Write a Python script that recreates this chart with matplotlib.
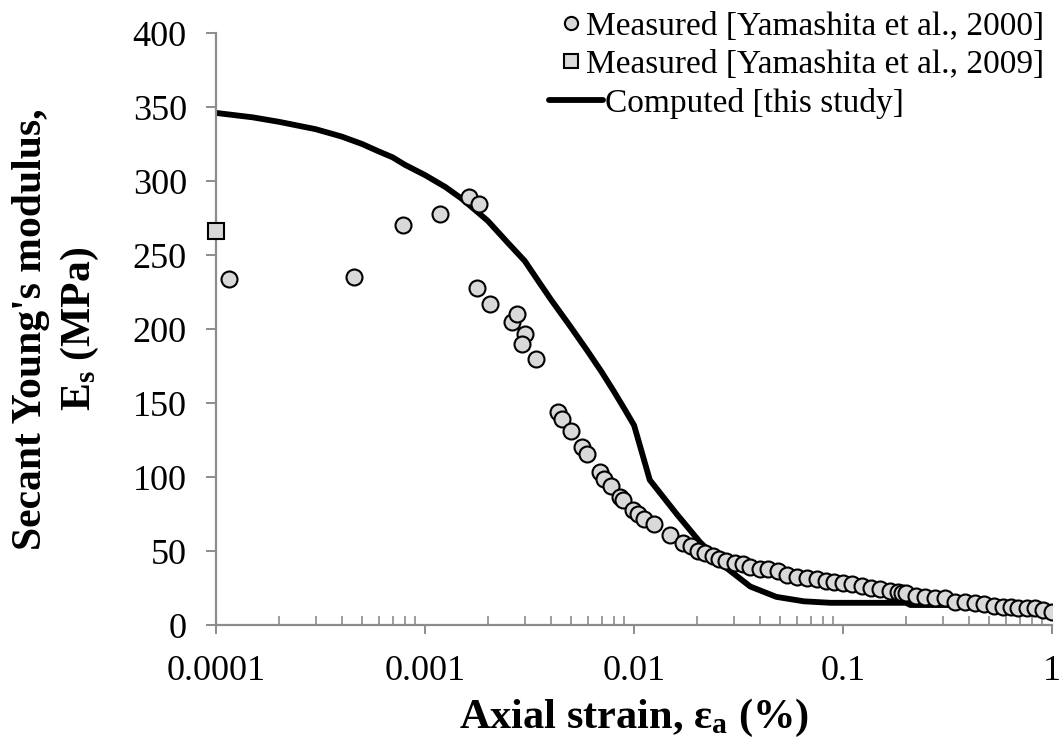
import matplotlib
matplotlib.use("Agg")
import matplotlib.pyplot as plt
from matplotlib.ticker import LogLocator, NullFormatter, FixedLocator, FixedFormatter
from matplotlib.lines import Line2D

plt.rcParams['font.family'] = ['Liberation Serif', 'DejaVu Serif']
plt.rcParams['mathtext.fontset'] = 'custom'
plt.rcParams['mathtext.rm'] = 'Liberation Serif:bold'
plt.rcParams['mathtext.bf'] = 'Liberation Serif:bold'
plt.rcParams['mathtext.it'] = 'Liberation Serif:bold:italic'

# Measured [Yamashita et al., 2000]
meas2000_strain = [1.15e-4, 4.57e-4, 7.87e-4, 1.18e-3, 1.63e-3, 1.81e-3, 1.78e-3, 2.05e-3,
                   2.62e-3, 2.75e-3, 3.01e-3, 2.90e-3, 3.41e-3, 4.35e-3, 4.51e-3, 5.0e-3,
                   5.63e-3, 5.96e-3, 6.88e-3, 7.18e-3, 7.78e-3, 8.57e-3, 8.83e-3, 9.86e-3,
                   1.04e-2, 1.12e-2, 1.24e-2, 1.49e-2, 1.71e-2, 1.87e-2, 2.02e-2, 2.19e-2,
                   2.38e-2, 2.54e-2, 2.75e-2, 3.04e-2, 3.31e-2, 3.59e-2, 4.01e-2, 4.39e-2,
                   4.9e-2, 5.38e-2, 6.0e-2, 6.75e-2, 7.48e-2, 8.3e-2, 9.08e-2, 0.100,
                   0.111, 0.123, 0.136, 0.150, 0.167, 0.184, 0.192, 0.201, 0.224, 0.246,
                   0.275, 0.307, 0.343, 0.383, 0.428, 0.473, 0.528, 0.583, 0.64, 0.69,
                   0.76, 0.83, 0.91, 1.0]
meas2000_E = [234, 235, 270, 278, 289, 284.5, 228, 217, 204.5, 210, 196.6, 190, 179.5,
              143.7, 139, 130.9, 120, 115.5, 103.4, 98.9, 94.1, 86.7, 84.5, 77.7, 74.8,
              71.6, 68, 60.6, 55.6, 53.4, 50.2, 48.4, 46.6, 44.4, 43.2, 42.1, 41, 39.4,
              38, 37.6, 36.7, 33.8, 32.6, 31.5, 30.9, 29.7, 29.3, 28.2, 27.5, 26.6, 25.2,
              24.1, 23, 22.1, 21.8, 21.4, 19.8, 18.9, 18.2, 18.5, 15.8, 15.8, 14.6, 14.2,
              13, 12.4, 12.0, 11.7, 11.3, 11.3, 10.1, 9]

# Measured [Yamashita et al., 2009]
meas2009_strain = [1.0e-4]
meas2009_E = [266.4]

# Computed [this study]
comp_strain = [1e-4, 1.5e-4, 2e-4, 3e-4, 4e-4, 5e-4, 6e-4, 7e-4, 8e-4, 1e-3, 1.25e-3,
               1.5e-3, 1.75e-3, 2e-3, 2.5e-3, 3e-3, 3.5e-3, 4e-3, 5e-3, 6e-3, 7e-3,
               8e-3, 9e-3, 1.0e-2, 1.01e-2, 1.19e-2, 1.6e-2, 2.07e-2, 2.8e-2, 3.6e-2,
               4.8e-2, 6.5e-2, 8.7e-2, 0.2, 0.21, 0.4]
comp_E = [346, 343, 340, 335, 330, 325, 320, 316, 311, 304, 296, 288, 280, 273, 258,
          246, 232, 220, 201, 185, 171, 158, 146, 135, 133, 98, 75, 56, 38, 26, 19,
          16, 15, 15, 13.5, 13.5]

xticks = [0.0001, 0.001, 0.01, 0.1, 1]
xtick_labels = ['0.0001', '0.001', '0.01', '0.1', '1']
yticks = [0, 50, 100, 150, 200, 250, 300, 350, 400]
legend_labels = ['Measured [Yamashita et al., 2000]', 'Measured [Yamashita et al., 2009]',
                 'Computed [this study]']

W, H = 1064, 751
fig = plt.figure(figsize=(W / 100, H / 100), dpi=100)
ax = fig.add_axes([216 / W, 1 - 625 / H, (1052 - 216) / W, (625 - 33) / H])

gray = '#8c8c8c'
face = '#d9d9d9'

ax.plot(comp_strain, comp_E, color='black', lw=4.2, zorder=2, solid_capstyle='butt')
ax.plot(meas2000_strain, meas2000_E, linestyle='none', marker='o', ms=11.5,
        mfc=face, mec='black', mew=1.5, zorder=3)
ax.plot(meas2009_strain, meas2009_E, linestyle='none', marker='s', ms=11,
        mfc=face, mec='black', mew=1.5, zorder=3, clip_on=False)

ax.set_xscale('log')
ax.set_xlim(1e-4, 1)
ax.set_ylim(0, 400)

ax.xaxis.set_major_locator(FixedLocator(xticks))
ax.xaxis.set_major_formatter(FixedFormatter(xtick_labels))
ax.xaxis.set_minor_locator(LogLocator(base=10, subs=range(2, 10)))
ax.xaxis.set_minor_formatter(NullFormatter())
ax.set_yticks(yticks)

for s in ['top', 'right']:
    ax.spines[s].set_visible(False)
for s in ['left', 'bottom']:
    ax.spines[s].set_color(gray)
    ax.spines[s].set_linewidth(1.6)

ax.tick_params(axis='x', which='major', direction='out', length=6.8, width=1.4,
               color=gray, labelsize=26, pad=15)
ax.tick_params(axis='x', which='minor', direction='in', length=6.8, width=1.2, color=gray)
ax.tick_params(axis='y', which='major', direction='out', length=7, width=1.4,
               color=gray, labelsize=26, pad=14)

ax.set_xlabel('Axial strain, ε$_\\mathrm{a}$ (%)', fontsize=30.5, fontweight='bold',
              labelpad=6)
ax.set_ylabel("Secant Young's modulus,\nE$_\\mathrm{s}$ (MPa)", fontsize=30,
              fontweight='bold', linespacing=1.3)
ax.yaxis.set_label_coords((101 - 216) / (1052 - 216), 0.5)

# Legend (Excel-style: line entry has a longer handle)
def fx(px):
    return px / W

def fy(py):
    return 1 - py / H

row_y = [23, 61, 100]
fig.add_artist(Line2D([fx(571)], [fy(row_y[0])], transform=fig.transFigure,
                      linestyle='none', marker='o', ms=9.5, mfc=face, mec='black', mew=1.5))
fig.add_artist(Line2D([fx(571)], [fy(row_y[1])], transform=fig.transFigure,
                      linestyle='none', marker='s', ms=9.5, mfc=face, mec='black', mew=1.5))
fig.add_artist(Line2D([fx(549), fx(603)], [fy(row_y[2]), fy(row_y[2])],
                      transform=fig.transFigure, color='black', lw=4.2,
                      solid_capstyle='round'))
text_x = [586, 586, 605]
for lbl, tx, ty in zip(legend_labels, text_x, row_y):
    fig.text(fx(tx), fy(ty), lbl, fontsize=24, ha='left', va='center_baseline')

fig.savefig('out.png', dpi=100)
